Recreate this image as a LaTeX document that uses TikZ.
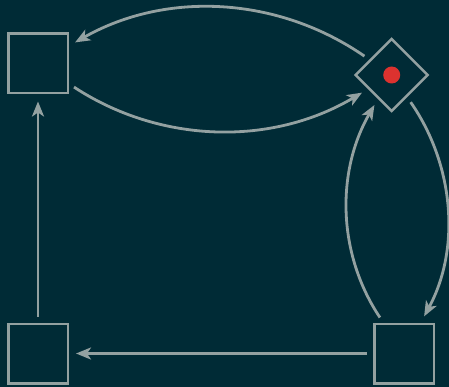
\documentclass[tikz,border=0pt]{standalone}
\usetikzlibrary{shapes.geometric,arrows.meta}
\definecolor{bg}{HTML}{002B36}
\definecolor{fg}{HTML}{93A1A1}
\definecolor{dotred}{HTML}{DC322F}
\begin{document}
\begin{tikzpicture}[x=1pt,y=-1pt,
  sq/.style={draw=fg,line width=2.5pt,rectangle,minimum size=59.5pt,inner sep=0pt},
  dia/.style={draw=fg,line width=2.5pt,diamond,aspect=1,minimum width=73pt,minimum height=73pt,inner sep=0pt},
  reddot/.style={circle,fill=dotred,minimum size=17pt,inner sep=0pt},
  edge/.style={draw=fg,line width=2.8pt,-{Stealth[length=15pt,width=12pt,inset=4pt]},shorten >=7pt,shorten <=6pt}]
\fill[bg] (0,0) rectangle (449,387);
\useasboundingbox (0,0) rectangle (449,387);
\node[sq] (tl) at (38,63.5) {};
\node[sq] (bl) at (38,353.5) {};
\node[sq] (br) at (404,353.5) {};
\node[dia] (d) at (391.7,75) {};
\node[reddot] (dot) at (d) {};
\draw[edge] (d) .. controls (277.7,-3.8) and (166,-9.3) .. (tl);
\draw[edge] (tl) .. controls (159.6,143.3) and (271,146.8) .. (d);
\draw[edge] (br) .. controls (337.9,254.8) and (335.5,172.6) .. (d);
\draw[edge] (d) .. controls (454.4,165) and (460.7,248.9) .. (br);
\draw[edge] (br) -- (bl);
\draw[edge] (bl) -- (tl);
\end{tikzpicture}
\end{document}
